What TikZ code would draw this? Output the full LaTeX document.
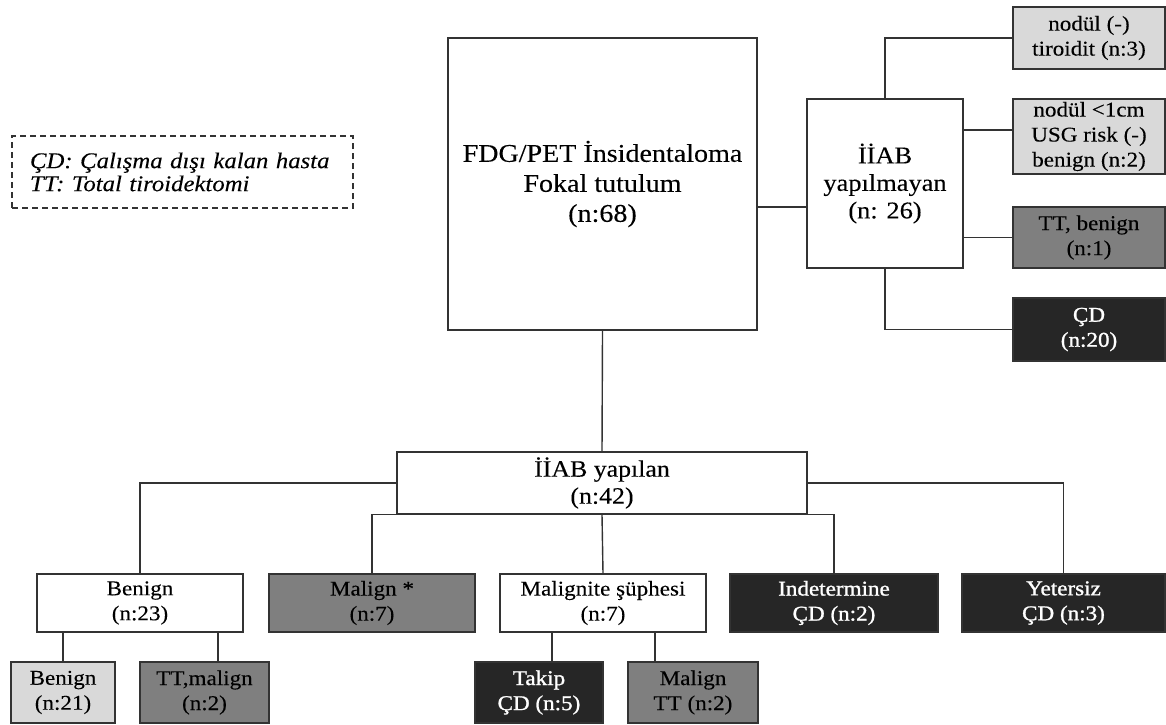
\documentclass[tikz,border=0pt]{standalone}
\usepackage{fontspec}
\setmainfont{Liberation Serif}[FakeStretch=1.1, FakeBold=0.15]
\newfontfamily\heavy{Liberation Serif}[FakeStretch=1.1, FakeBold=1.2]
\definecolor{lg}{HTML}{D9D9D9}
\definecolor{mg}{HTML}{7F7F7F}
\definecolor{dg}{HTML}{262626}
\definecolor{ln}{HTML}{333333}
\begin{document}
\begin{tikzpicture}[x=1pt,y=-1pt,
  box/.style={draw=ln, line width=1.4pt, rectangle, inner sep=0pt, align=center, text=black},
  fs/.style={font=\fontsize{21}{25}\selectfont},
  light/.style={box, fs, fill=lg},
  mid/.style={box, fs, fill=mg},
  dark/.style={box, font=\fontsize{21}{25}\selectfont\heavy, fill=dg, text=white},
  white/.style={box, fs, fill=white},
  conn/.style={draw=ln, line width=1.4pt}
]
\useasboundingbox (0,0) rectangle (1166,724);

% top part
\node[box, font=\fontsize{25.5}{30}\selectfont, minimum width=309pt, minimum height=292pt] (main) at (602.5,184) {FDG/PET İnsidentaloma\\Fokal tutulum\\(n:68)};
\node[box, font=\fontsize{24}{27.5}\selectfont, minimum width=156pt, minimum height=169pt] (ymayan) at (885,183.5) {İİAB\\yapılmayan\\(n: 26)};
\node[light, minimum width=152pt, minimum height=62pt] (b1) at (1089,38) {nodül (-)\\tiroidit (n:3)};
\node[light, minimum width=152pt, minimum height=75pt] (b2) at (1089,136.5) {nodül <1cm\\USG risk (-)\\benign (n:2)};
\node[mid, minimum width=152pt, minimum height=61pt] (b3) at (1089,237.5) {TT, benign\\(n:1)};
\node[dark, minimum width=152pt, minimum height=63pt] (b4) at (1089,329.5) {ÇD\\(n:20)};

% legend
\node[draw=ln, line width=1.2pt, dash pattern=on 6pt off 4pt, rectangle, minimum width=341pt, minimum height=72pt, text width=305pt, inner xsep=18pt, inner ysep=0pt, align=left, font=\fontsize{22.5}{23}\selectfont\itshape] (legend) at (182.5,172) {ÇD: Çalışma dışı kalan hasta\\TT: Total tiroidektomi};

% middle
\node[box, font=\fontsize{23.5}{27}\selectfont, minimum width=410pt, minimum height=62pt] (yapilan) at (602,483) {İİAB yapılan\\(n:42)};

% bottom row
\node[white, minimum width=206pt, minimum height=58pt] (benign) at (140,603) {Benign\\(n:23)};
\node[mid, minimum width=206pt, minimum height=58pt] (malign) at (372,603) {Malign *\\(n:7)};
\node[white, minimum width=206pt, minimum height=58pt] (suphe) at (603,603) {Malignite şüphesi\\(n:7)};
\node[dark, minimum width=208pt, minimum height=58pt] (indet) at (834,603) {Indetermine\\ÇD (n:2)};
\node[dark, minimum width=203pt, minimum height=58pt] (yeter) at (1063.5,603) {Yetersiz\\ÇD (n:3)};

\node[light, minimum width=104pt, minimum height=61pt] (bsub) at (63,692.5) {Benign\\(n:21)};
\node[mid, minimum width=129pt, minimum height=61pt] (ttm) at (204.5,692.5) {TT,malign\\(n:2)};
\node[dark, minimum width=128pt, minimum height=61pt] (takip) at (539,692.5) {Takip\\ÇD (n:5)};
\node[mid, minimum width=130pt, minimum height=61pt] (mtt) at (693,692.5) {Malign\\TT (n:2)};

% connectors
\draw[conn] ([yshift=-23pt]main.east) -- ([yshift=-23pt]main.east -| ymayan.west);
\draw[conn] (ymayan.north) |- (b1.west);
\draw[conn] ([yshift=53.5pt]ymayan.east) -- ([yshift=53.5pt]ymayan.east -| b2.west);
\draw[conn] (b3.west -| ymayan.east) -- (b3.west);
\draw[conn] (ymayan.south) |- (b4.west);

\draw[conn] (main.south) -- (yapilan.north);
\draw[conn] (yapilan.west) -| (benign.north);
\draw[conn] (yapilan.east) -| (yeter.north);
\draw[conn] (yapilan.south west) -| (malign.north);
\draw[conn] (yapilan.south east) -| (indet.north);
\draw[conn] (yapilan.south) -- (suphe.north);

\draw[conn] (benign.south -| bsub.north) -- (bsub.north);
\draw[conn] ([xshift=78pt]benign.south) -- ([xshift=78pt]benign.south |- ttm.north);
\draw[conn] ([xshift=-51pt]suphe.south) -- ([xshift=-51pt]suphe.south |- takip.north);
\draw[conn] ([xshift=52pt]suphe.south) -- ([xshift=52pt]suphe.south |- mtt.north);
\end{tikzpicture}
\end{document}
